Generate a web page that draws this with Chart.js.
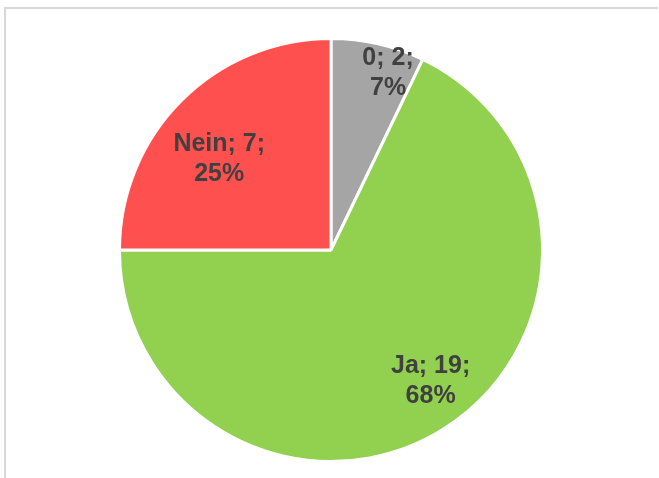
<!DOCTYPE html>
<html>
<head>
<meta charset="utf-8">
<script src="https://cdn.jsdelivr.net/npm/chart.js@4/dist/chart.umd.min.js"></script>
<style>
  html, body { margin: 0; padding: 0; background: #fff; }
  #wrap { position: relative; width: 659px; height: 478px; }
</style>
</head>
<body>
<div id="wrap"><canvas id="torte"></canvas></div>
<script>
// Daten
const kategorien = ['0', 'Ja', 'Nein'];
const anzahl = [2, 19, 7];
const farben = ['#A5A5A5', '#92D050', '#FF5050'];

// Lage der Beschriftungen: Anteil des Radius und Winkelverschiebung (Grad)
const labelRadius = [0.88, 0.78, 0.68];
const labelShift = [5, -5, -6];

const summe = anzahl.reduce((a, b) => a + b, 0);

// Rahmen wie im Excel-Diagramm
const rahmen = {
  id: 'rahmen',
  beforeDraw(chart) {
    const ctx = chart.ctx;
    ctx.save();
    ctx.strokeStyle = '#D9D9D9';
    ctx.lineWidth = 2;
    ctx.beginPath();
    ctx.moveTo(5, chart.height + 2);
    ctx.lineTo(5, 8);
    ctx.lineTo(658, 8);
    ctx.stroke();
    ctx.restore();
  }
};

// Beschriftung "Kategorie; Wert; Prozent"
const beschriftung = {
  id: 'beschriftung',
  afterDatasetsDraw(chart) {
    const ctx = chart.ctx;
    const meta = chart.getDatasetMeta(0);
    ctx.save();
    ctx.font = 'bold 25px "Liberation Sans", Arial, sans-serif';
    ctx.fillStyle = '#404040';
    ctx.textAlign = 'center';
    ctx.textBaseline = 'middle';
    meta.data.forEach((arc, i) => {
      const p = arc.getProps(['x', 'y', 'startAngle', 'endAngle', 'outerRadius'], true);
      const mitte = (p.startAngle + p.endAngle) / 2 + labelShift[i] * Math.PI / 180;
      const r = p.outerRadius * labelRadius[i];
      const x = p.x + Math.cos(mitte) * r;
      const y = p.y + Math.sin(mitte) * r;
      const proz = Math.round(anzahl[i] / summe * 100) + '%';
      ctx.fillText(kategorien[i] + '; ' + anzahl[i] + ';', x, y - 15);
      ctx.fillText(proz, x, y + 15);
    });
    ctx.restore();
  }
};

new Chart(document.getElementById('torte'), {
  type: 'pie',
  data: {
    labels: kategorien,
    datasets: [{
      data: anzahl,
      backgroundColor: farben,
      borderColor: '#FFFFFF',
      borderWidth: 3
    }]
  },
  options: {
    responsive: true,
    maintainAspectRatio: false,
    animation: false,
    layout: { padding: { top: 37, bottom: 15, left: 3, right: 0 } },
    plugins: {
      legend: { display: false },
      tooltip: { enabled: false }
    }
  },
  plugins: [rahmen, beschriftung]
});
</script>
</body>
</html>
